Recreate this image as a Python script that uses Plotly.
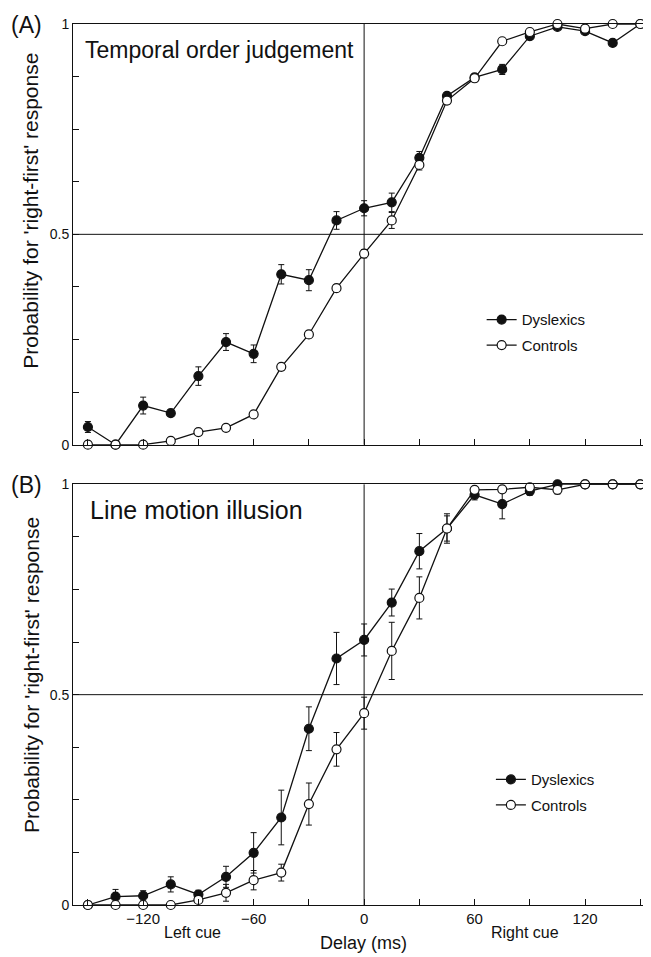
import plotly.graph_objects as go

delay = [-150, -135, -120, -105, -90, -75, -60, -45, -30, -15, 0, 15, 30, 45, 60, 75, 90, 105, 120, 135, 150]

# Panel A: Temporal order judgement
a_dys = [0.042, 0.0, 0.093, 0.075, 0.163, 0.244, 0.216, 0.405, 0.391, 0.533, 0.562, 0.576, 0.682, 0.829, 0.873, 0.892, 0.971, 0.993, 0.983, 0.955, 1.0]
a_dys_err = [0.013, 0, 0.02, 0.008, 0.022, 0.02, 0.021, 0.023, 0.025, 0.021, 0.018, 0.022, 0.015, 0.008, 0.008, 0.012, 0.008, 0.005, 0.005, 0.008, 0]
a_con = [0.0, 0.0, 0.0, 0.009, 0.030, 0.040, 0.072, 0.185, 0.262, 0.372, 0.454, 0.533, 0.665, 0.818, 0.871, 0.959, 0.981, 1.0, 0.989, 1.0, 1.0]
a_con_err = [0, 0, 0, 0, 0, 0, 0, 0.007, 0.008, 0.008, 0.01, 0.019, 0.012, 0.008, 0.008, 0, 0, 0, 0, 0, 0]

# Panel B: Line motion illusion
b_dys = [0.0, 0.020, 0.022, 0.049, 0.025, 0.067, 0.124, 0.208, 0.419, 0.586, 0.630, 0.719, 0.841, 0.895, 0.975, 0.953, 0.984, 1.0, 1.0, 1.0, 1.0]
b_dys_err = [0, 0.017, 0.012, 0.018, 0.01, 0.025, 0.048, 0.065, 0.052, 0.062, 0.038, 0.032, 0.042, 0.03, 0.012, 0.035, 0.01, 0, 0, 0, 0]
b_con = [0.0, 0.0, 0.0, 0.0, 0.012, 0.029, 0.059, 0.077, 0.240, 0.370, 0.456, 0.604, 0.730, 0.895, 0.987, 0.988, 0.993, 0.987, 1.0, 1.0, 1.0]
b_con_err = [0, 0, 0, 0, 0.005, 0.02, 0.023, 0.02, 0.05, 0.04, 0.038, 0.068, 0.05, 0.035, 0.005, 0.005, 0.005, 0.01, 0, 0, 0]

x_ticks = [-150, -120, -90, -60, -30, 0, 30, 60, 90, 120, 150]
x_ticktext = ["", "\u2212120", "", "\u221260", "", "0", "", "60", "", "120", ""]
y_ticks = [0, 0.125, 0.25, 0.375, 0.5, 0.625, 0.75, 0.875, 1]
y_ticktext = ["0", "", "", "", "0.5", "", "", "", "1"]

FONT = "Liberation Sans, Arial, sans-serif"
BLACK = "#111111"

fig = go.Figure()

def add_series(y, err, name, filled, xa, ya, legend):
    fig.add_trace(go.Scatter(
        x=delay, y=y, name=name, mode="lines+markers",
        xaxis=xa, yaxis=ya, legend=legend, legendgroup=name + legend,
        line=dict(color=BLACK, width=1.3),
        marker=dict(size=9, symbol="circle",
                    color=BLACK if filled else "white",
                    line=dict(color=BLACK, width=1.2)),
        error_y=dict(type="data", array=err, visible=True, color=BLACK,
                     thickness=1, width=3),
        cliponaxis=False,
    ))

add_series(a_dys, a_dys_err, "Dyslexics", True, "x", "y", "legend")
add_series(a_con, a_con_err, "Controls", False, "x", "y", "legend")
add_series(b_dys, b_dys_err, "Dyslexics", True, "x2", "y2", "legend2")
add_series(b_con, b_con_err, "Controls", False, "x2", "y2", "legend2")

xr = [-158.1, 155.8]
common_x = dict(range=xr, showgrid=False, zeroline=False, showline=True,
                linecolor=BLACK, linewidth=1, mirror=True, ticks="inside",
                ticklen=6, tickcolor=BLACK, tickvals=x_ticks, ticktext=x_ticktext,
                tickfont=dict(family=FONT, size=15, color=BLACK))
common_y = dict(range=[0, 1], showgrid=False, zeroline=False, showline=True,
                linecolor=BLACK, linewidth=1, ticks="inside", ticklen=6,
                tickcolor=BLACK, tickvals=y_ticks, ticktext=y_ticktext,
                tickfont=dict(family=FONT, size=14, color=BLACK))

fig.update_layout(
    width=651, height=957,
    margin=dict(l=65, r=8, t=9, b=60),
    paper_bgcolor="white", plot_bgcolor="white",
    showlegend=True,
    font=dict(family=FONT, color=BLACK),
    xaxis=dict(common_x, domain=[0, 1], anchor="y", showticklabels=False),
    yaxis=dict(common_y, domain=[0.5225, 1], anchor="x"),
    xaxis2=dict(common_x, domain=[0, 1], anchor="y2", showticklabels=True),
    yaxis2=dict(common_y, domain=[0, 0.4775], anchor="x2"),
    legend=dict(x=0.707, y=0.683, xanchor="left", yanchor="top",
                font=dict(family=FONT, size=15, color=BLACK),
                bgcolor="rgba(0,0,0,0)", traceorder="grouped", tracegroupgap=3),
    legend2=dict(x=0.723, y=0.161, xanchor="left", yanchor="top",
                 font=dict(family=FONT, size=15, color=BLACK),
                 bgcolor="rgba(0,0,0,0)", traceorder="grouped", tracegroupgap=3),
)

# reference lines at 0 ms and p = 0.5
for xa, ya in (("x", "y"), ("x2", "y2")):
    fig.add_shape(type="line", xref=xa, yref=ya + " domain", x0=0, x1=0, y0=0, y1=1,
                  line=dict(color=BLACK, width=1), layer="below")
    fig.add_shape(type="line", xref=xa + " domain", yref=ya, x0=0, x1=1, y0=0.5, y1=0.5,
                  line=dict(color=BLACK, width=1), layer="below")

for txt, yy in (("(A)", 0.999), ("(B)", 0.4764)):
    fig.add_annotation(text=txt, xref="paper", yref="paper", x=-0.081, y=yy,
                       showarrow=False, xanchor="center", yanchor="middle",
                       font=dict(family=FONT, size=23, color=BLACK))

fig.add_annotation(text="Temporal order judgement", xref="paper", yref="paper",
                   x=0.0173, y=0.9707, xanchor="left", yanchor="middle", showarrow=False,
                   font=dict(family=FONT, size=23, color=BLACK))
fig.add_annotation(text="Line motion illusion", xref="paper", yref="paper",
                   x=0.026, y=0.448, xanchor="left", yanchor="middle", showarrow=False,
                   font=dict(family=FONT, size=25, color=BLACK))

for yc in (0.788, 0.261):
    fig.add_annotation(text="Probability for 'right-first' response", xref="paper", yref="paper",
                       x=-0.0727, y=yc, xanchor="center", yanchor="middle", textangle=-90,
                       showarrow=False, font=dict(family=FONT, size=21, color=BLACK))

fig.add_annotation(text="Left cue", xref="paper", yref="paper", x=0.206, y=-0.0315,
                   xanchor="center", yanchor="middle", showarrow=False,
                   font=dict(family=FONT, size=16, color=BLACK))
fig.add_annotation(text="Right cue", xref="paper", yref="paper", x=0.782, y=-0.0315,
                   xanchor="center", yanchor="middle", showarrow=False,
                   font=dict(family=FONT, size=16, color=BLACK))
fig.add_annotation(text="Delay (ms)", xref="paper", yref="paper", x=0.502, y=-0.0428,
                   xanchor="center", yanchor="middle", showarrow=False,
                   font=dict(family=FONT, size=18, color=BLACK))

fig.write_html("out.html")
